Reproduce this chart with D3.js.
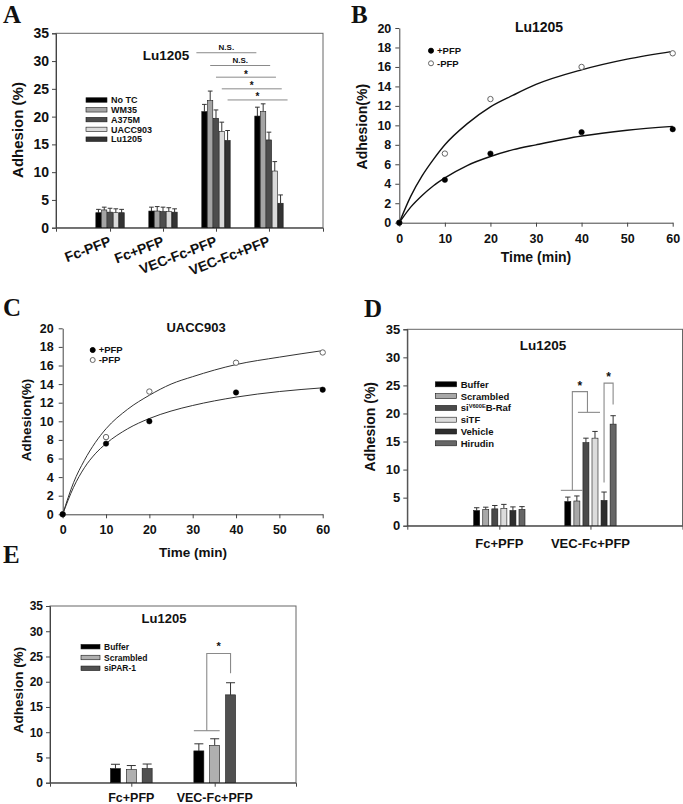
<!DOCTYPE html>
<html><head><meta charset="utf-8">
<script src="https://cdn.jsdelivr.net/npm/d3@7"></script>
<style>
body{margin:0;background:#fff;}
svg text{font-family:"Liberation Sans",Arial,Helvetica,sans-serif;font-weight:bold;fill:#111;}
</style></head><body>
<svg id="c" width="683" height="804" xmlns="http://www.w3.org/2000/svg"></svg>
<script>
// ---------------- DATA ----------------
// Panel A
const catsA = ["Fc-PFP", "Fc+PFP", "VEC-Fc-PFP", "VEC-Fc+PFP"];
const seriesA = ["No TC", "WM35", "A375M", "UACC903", "Lu1205"];
const valsA = [
  [2.7, 3.0, 20.9, 20.1],
  [3.2, 3.0, 22.9, 20.9],
  [2.8, 2.9, 19.7, 15.8],
  [2.7, 2.9, 17.3, 10.2],
  [2.7, 2.8, 15.7, 4.4]
];
const errsA = [
  [0.6, 0.7, 1.3, 1.6],
  [0.5, 0.8, 1.7, 1.4],
  [0.7, 0.8, 1.5, 1.4],
  [0.7, 0.7, 1.7, 1.7],
  [0.6, 0.6, 1.8, 1.5]
];
const colorsA = ["#000000", "#a4a4a4", "#4d4d4d", "#dadada", "#333333"];
const sigLevelsA = [31.5, 29.2, 27.1, 25.0, 23.0];
const sigLabelsA = ["N.S.", "N.S.", "*", "*", "*"];
const yTicksBar = [0, 5, 10, 15, 20, 25, 30, 35];

// Panel B (Lu1205) and C (UACC903)
const timePts = [0, 10, 20, 40, 60];
const plusB = [0, 4.4, 7.1, 9.3, 9.6];
const minusB = [0, 7.1, 12.7, 16.0, 17.4];
const fitT = [0, 2.5, 5, 7.5, 10, 15, 20, 25, 30, 40, 50, 60];
const fitPlusB = [0, 1.6, 2.8, 3.8, 4.6, 5.9, 6.8, 7.5, 8.0, 8.9, 9.5, 9.9];
const fitMinusB = [0, 2.7, 4.8, 6.5, 8.0, 10.2, 11.9, 13.1, 14.2, 15.7, 16.8, 17.6];
const plusC = [0, 7.6, 10.0, 13.1, 13.4];
const minusC = [0, 8.3, 13.2, 16.3, 17.4];
const fitPlusC = [0, 2.9, 5.0, 6.5, 7.6, 9.2, 10.3, 11.1, 11.7, 12.6, 13.2, 13.6];
const fitMinusC = [0, 3.4, 5.8, 7.7, 9.2, 11.3, 12.8, 14.0, 14.8, 16.1, 16.9, 17.6];
const xTicksTime = [0, 10, 20, 30, 40, 50, 60];
const yTicksLine = [0, 2, 4, 6, 8, 10, 12, 14, 16, 18, 20];
const legendLine = ["+PFP", "-PFP"];

// Panel D
const catsD = ["Fc+PFP", "VEC-Fc+PFP"];
const seriesD = ["Buffer", "Scrambled", "siV600E B-Raf", "siTF", "Vehicle", "Hirudin"];
const valsD = [
  [2.7, 4.3],
  [2.9, 4.4],
  [3.0, 14.8],
  [3.1, 15.6],
  [2.7, 4.5],
  [2.9, 18.1]
];
const errsD = [
  [0.5, 0.8],
  [0.4, 0.9],
  [0.6, 0.8],
  [0.7, 1.2],
  [0.65, 1.5],
  [0.5, 1.5]
];
const colorsD = ["#000000", "#a8a8a8", "#4a4a4a", "#dcdcdc", "#2e2e2e", "#666666"];

// Panel E
const catsE = ["Fc+PFP", "VEC-Fc+PFP"];
const seriesE = ["Buffer", "Scrambled", "siPAR-1"];
const valsE = [
  [2.8, 6.3],
  [2.6, 7.4],
  [2.8, 17.4]
];
const errsE = [
  [0.85, 1.4],
  [0.8, 1.3],
  [0.9, 2.4]
];
const colorsE = ["#000000", "#b0b0b0", "#505050"];

// ---------------- DRAWING ----------------
const svg = d3.select("#c");
svg.append("rect").attr("width", 683).attr("height", 804).attr("fill", "#fff");

function styleAxis(g, fs) {
  g.selectAll("text").attr("font-size", fs).attr("font-weight", "bold").attr("fill", "#111");
  g.selectAll("line").attr("stroke", "#444");
  g.selectAll("path.domain").attr("stroke", "#444");
}

function panelLetter(t, x, y) {
  svg.append("text").text(t).attr("x", x).attr("y", y)
    .style("font-family", '"Liberation Serif","Times New Roman",serif')
    .attr("font-size", 25).attr("font-weight", "bold").attr("fill", "#000");
}

function yTitle(t, cx, cy, fs) {
  svg.append("text").text(t).attr("transform", `translate(${cx},${cy}) rotate(-90)`)
    .attr("text-anchor", "middle").attr("font-size", fs);
}

function title(t, cx, by, fs) {
  svg.append("text").text(t).attr("x", cx).attr("y", by).attr("text-anchor", "middle").attr("font-size", fs);
}

function barPanel(o) {
  const x = d3.scalePoint().domain(o.cats).range([o.L, o.R]).padding(o.pad).align(0.5);
  const y = d3.scaleLinear().domain([0, 35]).range([o.B, o.T]);
  const g = svg.append("g");
  g.append("rect").attr("x", o.L).attr("y", o.T).attr("width", o.R - o.L).attr("height", o.B - o.T)
    .attr("fill", "none").attr("stroke", "#666").attr("stroke-width", 1);
  const ya = g.append("g").attr("transform", `translate(${o.L},0)`)
    .call(d3.axisLeft(y).tickValues(yTicksBar).tickSize(4).tickPadding(o.tpad));
  styleAxis(ya, o.tfs);
  const xa = g.append("g").attr("transform", `translate(0,${o.B})`)
    .call(d3.axisBottom(x).tickSize(4).tickFormat(""));
  styleAxis(xa, o.tfs);
  const n = o.series.length;
  const cx = (i, c) => x(c) + (i - (n - 1) / 2) * o.step;
  const flat = [];
  o.series.forEach((s, i) => o.cats.forEach((c, j) => flat.push({ i, c, v: o.vals[i][j], e: o.errs[i][j] })));
  g.selectAll(".err").data(flat).join("line").attr("class", "err")
    .attr("x1", d => cx(d.i, d.c)).attr("x2", d => cx(d.i, d.c))
    .attr("y1", d => y(d.v)).attr("y2", d => y(d.v + d.e))
    .attr("stroke", "#333").attr("stroke-width", 1);
  g.selectAll(".cap").data(flat).join("line").attr("class", "cap")
    .attr("x1", d => cx(d.i, d.c) - o.bw * 0.45).attr("x2", d => cx(d.i, d.c) + o.bw * 0.45)
    .attr("y1", d => y(d.v + d.e)).attr("y2", d => y(d.v + d.e))
    .attr("stroke", "#333").attr("stroke-width", 1);
  g.selectAll(".bar").data(flat).join("rect").attr("class", "bar")
    .attr("x", d => cx(d.i, d.c) - o.bw / 2).attr("width", o.bw)
    .attr("y", d => y(d.v)).attr("height", d => y(0) - y(d.v))
    .attr("fill", d => o.colors[d.i]).attr("stroke", "#1a1a1a").attr("stroke-width", 0.6);
  // legend
  const lg = g.append("g");
  o.series.forEach((s, i) => {
    const ly = o.legY + i * o.legDy;
    lg.append("rect").attr("x", o.legX).attr("y", ly - o.legH / 2).attr("width", o.legW).attr("height", o.legH)
      .attr("fill", o.colors[i]).attr("stroke", "#1a1a1a").attr("stroke-width", 0.6);
    const t = lg.append("text").attr("x", o.legX + o.legW + 4).attr("y", ly + o.legFs * 0.36).attr("font-size", o.legFs);
    if (s === "siV600E B-Raf") {
      t.append("tspan").text("si");
      t.append("tspan").text("V600E").attr("font-size", o.legFs * 0.6).attr("dy", -o.legFs * 0.4);
      t.append("tspan").text("B-Raf").attr("dy", o.legFs * 0.4);
    } else t.text(s);
  });
  return { x, y, cx, g };
}

// ---------- Panel A ----------
panelLetter("A", 3, 23);
const A = barPanel({
  L: 56, R: 323, T: 33.3, B: 227.7, pad: 1.02, tpad: 3, tfs: 14,
  cats: catsA, series: seriesA, vals: valsA, errs: errsA, colors: colorsA,
  step: 5.8, bw: 5.2,
  legX: 86, legY: 100, legDy: 9.8, legW: 21, legH: 4.5, legFs: 9
});
catsA.forEach(c => {
  svg.append("text").text(c).attr("transform", `translate(${A.x(c) + 2},245) rotate(-21)`)
    .attr("text-anchor", "end").attr("font-size", 14);
});
yTitle("Adhesion (%)", 23, 130, 15);
title("Lu1205", 166, 60, 13.5);
seriesA.forEach((s, i) => {
  const x1 = A.cx(i, catsA[2]) - (i === 0 ? 8 : 0);
  const x2 = x1 + (A.x(catsA[3]) - A.x(catsA[2])) + 7;
  const yy = A.y(sigLevelsA[i]);
  svg.append("line").attr("x1", x1).attr("x2", x2).attr("y1", yy).attr("y2", yy)
    .attr("stroke", "#8a8a8a").attr("stroke-width", 1);
  const isStar = sigLabelsA[i] === "*";
  svg.append("text").text(sigLabelsA[i]).attr("x", (x1 + x2) / 2).attr("y", isStar ? yy + 0.5 : yy - 3)
    .attr("text-anchor", "middle").attr("font-size", isStar ? 10 : 8);
});

// ---------- Line panels ----------
function linePanel(o) {
  const x = d3.scaleLinear().domain([0, 60]).range([o.L, o.R]);
  const y = d3.scaleLinear().domain([0, 20]).range([o.B, o.T]);
  const g = svg.append("g");
  const xa = g.append("g").attr("transform", `translate(0,${o.B})`)
    .call(d3.axisBottom(x).tickValues(xTicksTime).tickSize(4).tickPadding(o.xpad).tickSizeOuter(0));
  styleAxis(xa, o.tfs);
  const ya = g.append("g").attr("transform", `translate(${o.L},0)`)
    .call(d3.axisLeft(y).tickValues(yTicksLine).tickSize(4).tickPadding(o.ypad).tickSizeOuter(0));
  styleAxis(ya, o.tfs);
  const line = d3.line().x((d, i) => x(fitT[i])).y(d => y(d)).curve(d3.curveMonotoneX);
  [o.fitMinus, o.fitPlus].forEach(f => {
    g.append("path").attr("d", line(f)).attr("fill", "none").attr("stroke", o.curveColor).attr("stroke-width", o.curveW);
  });
  g.selectAll(".pm").data(o.minus).join("circle").attr("class", "pm")
    .attr("cx", (d, i) => x(timePts[i])).attr("cy", d => y(d)).attr("r", 2.7)
    .attr("fill", "#fff").attr("stroke", "#666").attr("stroke-width", 1);
  g.selectAll(".pp").data(o.plus).join("circle").attr("class", "pp")
    .attr("cx", (d, i) => x(timePts[i])).attr("cy", d => y(d)).attr("r", 2.7)
    .attr("fill", "#000").attr("stroke", "#000").attr("stroke-width", 0.5);
  // legend
  legendLine.forEach((s, i) => {
    const ly = o.legY + i * o.legDy;
    g.append("circle").attr("cx", o.legX).attr("cy", ly).attr("r", 2.5)
      .attr("fill", i === 0 ? "#000" : "#fff").attr("stroke", i === 0 ? "#000" : "#666").attr("stroke-width", 1);
    g.append("text").text(s).attr("x", o.legX + 6).attr("y", ly + 3.4).attr("font-size", 9.5);
  });
  return { x, y };
}

panelLetter("B", 351, 23);
linePanel({
  L: 399.3, R: 672.7, T: 28, B: 222.7, xpad: 7, ypad: 4, tfs: 12.5,
  plus: plusB, minus: minusB, fitPlus: fitPlusB, fitMinus: fitMinusB,
  curveColor: "#111", curveW: 1.4, legX: 431, legY: 50.7, legDy: 12.6
});
title("Lu1205", 539, 32, 14);
yTitle("Adhesion(%)", 366.5, 126.7, 14);
svg.append("text").text("Time (min)").attr("x", 536).attr("y", 261.5).attr("text-anchor", "middle").attr("font-size", 14);

panelLetter("C", 3, 316);
linePanel({
  L: 62.7, R: 322.7, T: 328.3, B: 514.3, xpad: 7, ypad: 5, tfs: 12.5,
  plus: plusC, minus: minusC, fitPlus: fitPlusC, fitMinus: fitMinusC,
  curveColor: "#333", curveW: 1, legX: 92.7, legY: 350, legDy: 10
});
title("UACC903", 196, 332, 13);
yTitle("Adhesion(%)", 31, 420, 13.5);
svg.append("text").text("Time (min)").attr("x", 193).attr("y", 556.5).attr("text-anchor", "middle").attr("font-size", 13.5);

// ---------- Panel D ----------
panelLetter("D", 364, 317);
const D = barPanel({
  L: 407.3, R: 682.5, T: 329.3, B: 525.7, pad: 1.01, tpad: 3, tfs: 13,
  cats: catsD, series: seriesD, vals: valsD, errs: errsD, colors: colorsD,
  step: 9.06, bw: 6,
  legX: 435.3, legY: 384.3, legDy: 11.8, legW: 21.4, legH: 5, legFs: 9.5
});
catsD.forEach(c => {
  svg.append("text").text(c).attr("x", D.x(c)).attr("y", 548).attr("text-anchor", "middle").attr("font-size", 13);
});
yTitle("Adhesion (%)", 375, 426.7, 14);
title("Lu1205", 543, 350, 13.5);
{
  const bc = "#8a8a8a", c = catsD[1];
  const lowY = D.y(6.3), topY = D.y(23.9), upY = D.y(20.2);
  const m1 = (D.cx(0, c) + D.cx(1, c)) / 2, m2 = (D.cx(2, c) + D.cx(3, c)) / 2;
  const p = [
    [[D.cx(0, c) - 7, lowY], [D.cx(1, c) + 6, lowY]],
    [[m1, lowY], [m1, topY], [m2 - 3, topY], [m2 - 3, upY]],
    [[D.cx(2, c) - 8, upY], [D.cx(3, c) + 5, upY]],
    [[D.cx(4, c), D.y(7.7)], [D.cx(4, c), D.y(25.4)], [D.cx(5, c), D.y(25.4)], [D.cx(5, c), D.y(21.6)]]
  ];
  p.forEach(pts => svg.append("path").attr("d", d3.line()(pts)).attr("fill", "none").attr("stroke", bc).attr("stroke-width", 1.1));
  svg.append("text").text("*").attr("x", (m1 + m2 - 3) / 2).attr("y", topY - 2).attr("text-anchor", "middle").attr("font-size", 12);
  svg.append("text").text("*").attr("x", (D.cx(4, c) + D.cx(5, c)) / 2).attr("y", D.y(25.4) - 2).attr("text-anchor", "middle").attr("font-size", 12);
}

// ---------- Panel E ----------
panelLetter("E", 3, 563);
const E = barPanel({
  L: 50, R: 296, T: 606, B: 782.7, pad: 0.975, tpad: 3, tfs: 12,
  cats: catsE, series: seriesE, vals: valsE, errs: errsE, colors: colorsE,
  step: 15.85, bw: 10,
  legX: 81, legY: 646.7, legDy: 10.8, legW: 19, legH: 4.5, legFs: 8.5
});
catsE.forEach(c => {
  svg.append("text").text(c).attr("x", E.x(c)).attr("y", 802).attr("text-anchor", "middle").attr("font-size", 12.5);
});
yTitle("Adhesion (%)", 23, 690, 13.5);
title("Lu1205", 164, 623, 13);
{
  const bc = "#8a8a8a", c = catsE[1];
  const lowY = E.y(10.3), topY = E.y(25.6), endY = E.y(21.7);
  const m1 = (E.cx(0, c) + E.cx(1, c)) / 2;
  svg.append("path").attr("d", d3.line()([[E.cx(0, c) - 5, lowY], [E.cx(1, c) + 5, lowY]]))
    .attr("fill", "none").attr("stroke", bc).attr("stroke-width", 1.1);
  svg.append("path").attr("d", d3.line()([[m1, lowY], [m1, topY], [E.cx(2, c), topY], [E.cx(2, c), endY]]))
    .attr("fill", "none").attr("stroke", bc).attr("stroke-width", 1.1);
  svg.append("text").text("*").attr("x", (m1 + E.cx(2, c)) / 2).attr("y", topY - 3).attr("text-anchor", "middle").attr("font-size", 11);
}
</script></body></html>
